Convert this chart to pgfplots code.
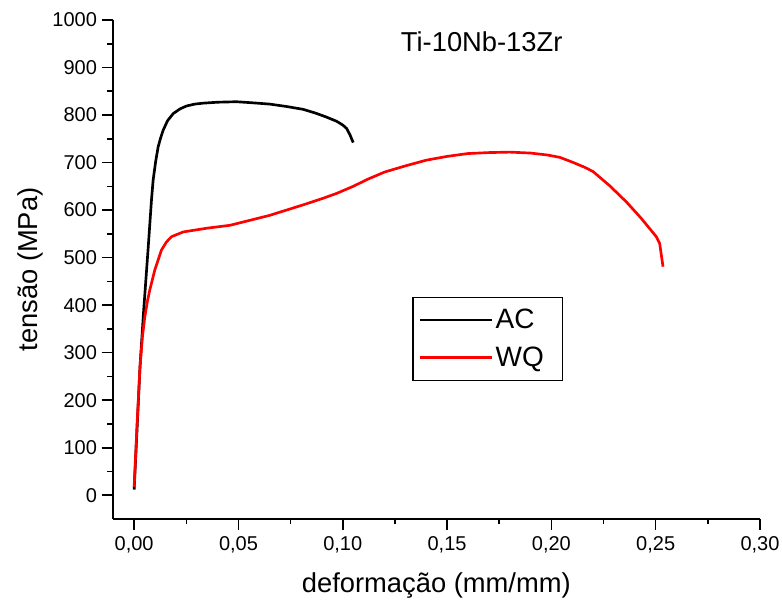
\documentclass[border=0pt]{standalone}
\usepackage{pgfplots}
\pgfplotsset{compat=1.18}
\usepackage{fontspec}
\setmainfont{Liberation Sans}
\begin{document}
\begin{tikzpicture}
\useasboundingbox (-84.5pt,-63pt) rectangle (502pt,389.25pt);
\begin{axis}[
  at={(0,0)}, anchor=south west,
  scale only axis, width=485.5pt, height=374.25pt,
  xmin=-0.0103, xmax=0.30, ymin=-50, ymax=1000,
  axis x line*=bottom, axis y line*=left,
  axis line style={line width=1.5pt, -},
  tick align=outside,
  major tick length=8.25pt, minor tick length=4pt,
  every tick/.style={line width=1.2pt, black},
  minor tick num=1,
  xtick={0,0.05,0.10,0.15,0.20,0.25,0.30},
  ytick={0,100,200,300,400,500,600,700,800,900,1000},
  /pgf/number format/assume math mode=true,
  /pgf/number format/1000 sep={},
  xticklabel style={yshift=-1pt, /pgf/number format/.cd, fixed, fixed zerofill, precision=2, use comma, 1000 sep={}},
  yticklabel style={/pgf/number format/.cd, fixed, precision=0, 1000 sep={}},
  scaled x ticks=false, scaled y ticks=false,
  ticklabel style={font=\fontsize{15}{18}\selectfont},
  label style={font=\fontsize{20.5}{24}\selectfont},
  xlabel={deformação (mm/mm)},
  xlabel style={yshift=-8pt},
  ylabel={tensão (MPa)},
  legend style={at={(axis cs:0.1334,417.5)}, anchor=north west, draw=black, line width=0.8pt,
    font=\fontsize{21}{25}\selectfont, inner xsep=4pt, inner ysep=7pt, row sep=8pt},
  legend cell align=left,
  legend image code/.code={\draw[#1, line width=2pt] (0pt,0pt) -- (54pt,0pt);},
]
\addplot[black, line width=2pt] coordinates {
(0.0000,12) (0.0014,140) (0.0028,270) (0.0045,385) (0.0067,519) (0.0083,621)
(0.0091,663) (0.0103,702) (0.0115,733) (0.0127,752)
(0.0139,768) (0.0160,788) (0.0187,803) (0.0220,813) (0.0251,819) (0.0290,823)
(0.0331,825) (0.0400,827) (0.0490,828) (0.0560,826) (0.0650,823) (0.0730,818)
(0.0810,812) (0.0870,804) (0.0920,796) (0.0970,787) (0.1000,779) (0.1018,772)
(0.1035,758) (0.1050,742)
};
\addlegendentry{AC\hspace*{8pt}}
\addplot[red, line width=2pt] coordinates {
(0.0000,17) (0.0014,150) (0.0028,270) (0.0040,335) (0.0051,375) (0.0063,407)
(0.0075,432) (0.0099,474) (0.0131,516) (0.0155,533) (0.0179,544) (0.0235,554)
(0.0350,562) (0.0459,568) (0.0550,578)
(0.0650,589) (0.0730,600) (0.0810,611) (0.0900,624) (0.0970,635) (0.1050,650)
(0.1120,665) (0.1200,680) (0.1300,693) (0.1400,705) (0.1500,713) (0.1600,719)
(0.1700,721) (0.1800,722) (0.1900,720) (0.1980,716) (0.2040,711) (0.2100,701)
(0.2160,690) (0.2200,681) (0.2280,651) (0.2360,617) (0.2430,583) (0.2503,544)
(0.2519,530) (0.2535,481)
};
\addlegendentry{WQ\hspace*{8pt}}
\node[font=\fontsize{20.5}{24}\selectfont] at (axis cs:0.1666,954) {Ti-10Nb-13Zr};
\end{axis}
\end{tikzpicture}
\end{document}
